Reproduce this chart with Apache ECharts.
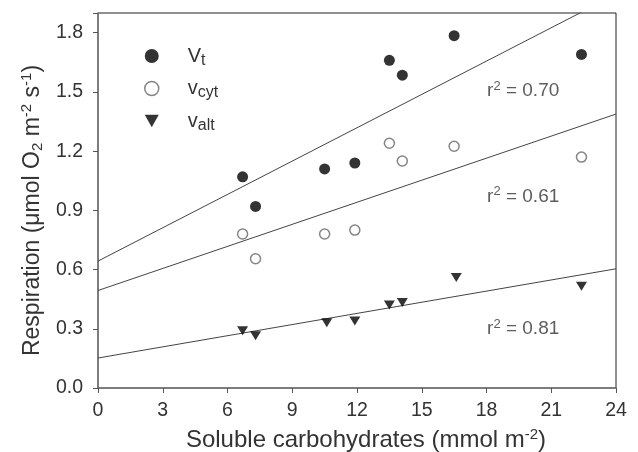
<!DOCTYPE html>
<html>
<head>
<meta charset="utf-8">
<script src="https://cdn.jsdelivr.net/npm/echarts@6/dist/echarts.min.js"></script>
<style>html,body{margin:0;padding:0;background:#fff}#c{width:638px;height:452px}</style>
</head>
<body>
<div id="c"></div>
<script>
// x values (soluble carbohydrates, mmol m-2)
const xVt   = [6.7, 7.3, 10.5, 11.9, 13.5, 14.1, 16.5, 22.4];
const yVt   = [1.07, 0.92, 1.11, 1.14, 1.66, 1.585, 1.785, 1.69];
const xVcyt = [6.7, 7.3, 10.5, 11.9, 13.5, 14.1, 16.5, 22.4];
const yVcyt = [0.78, 0.655, 0.78, 0.80, 1.24, 1.15, 1.225, 1.17];
const xValt = [6.7, 7.3, 10.6, 11.9, 13.5, 14.1, 16.6, 22.4];
const yValt = [0.29, 0.265, 0.33, 0.34, 0.42, 0.433, 0.56, 0.515];
// regression lines: intercepts and slopes
const fitIntercept = [0.643, 0.494, 0.152];
const fitSlope     = [0.0563, 0.03725, 0.01883];
const fitR2        = ['0.70', '0.61', '0.81'];
const xTicks = [0, 3, 6, 9, 12, 15, 18, 21, 24];
const yTicks = [0.0, 0.3, 0.6, 0.9, 1.2, 1.5, 1.8];

const FONT = "'Liberation Sans', Arial, sans-serif";
const TXT = '#333';
const zip = (a, b) => a.map((v, i) => [v, b[i]]);
const xMin = xTicks[0], xMax = xTicks[xTicks.length - 1];
const fitLine = i => [[xMin, fitIntercept[i]], [xMax, fitIntercept[i] + fitSlope[i] * xMax]];

const chart = echarts.init(document.getElementById('c'));
const annPos = [[19.7, 1.505], [19.7, 0.97], [19.7, 0.298]];
const TRI = 'path://M0,0L10,0L5,9Z';

chart.setOption({
  animation: false,
  grid: { left: 98, right: 22, top: 13, bottom: 64, show: true, borderColor: '#222', borderWidth: 1,
          containLabel: false, outerBoundsMode: 'none' },
  legend: {
    orient: 'vertical', left: 139, top: 41, itemGap: 10, itemWidth: 14, itemHeight: 14,
    data: [
      { name: 'Vt', icon: 'circle', itemStyle: { color: '#000', borderWidth: 0 } },
      { name: 'vcyt', icon: 'circle', itemStyle: { color: '#fff', borderColor: '#666', borderWidth: 1.5 } },
      { name: 'valt', icon: TRI, itemStyle: { color: '#000', borderWidth: 0 } }
    ],
    formatter: n => n === 'Vt' ? '{m|V}{s|t}' : '{m|v}{s|' + n.slice(1) + '}',
    textStyle: {
      fontFamily: FONT, color: TXT, padding: [0, 0, 0, 24],
      rich: {
        m: { fontSize: 20, fontFamily: FONT, color: TXT, lineHeight: 22 },
        s: { fontSize: 16, fontFamily: FONT, color: TXT, padding: [9, 0, 0, 0] }
      }
    }
  },
  xAxis: {
    type: 'value', min: xMin, max: xMax, interval: 3,
    name: 'Soluble carbohydrates (mmol m{sup|-2})', nameLocation: 'middle', nameGap: 39,
    nameTextStyle: { fontFamily: FONT, fontSize: 24, color: TXT, padding: [0, 0, 0, 18],
      rich: { sup: { fontSize: 15, fontFamily: FONT, color: TXT, padding: [0, 0, 12, 0] } } },
    axisLine: { lineStyle: { color: '#777', width: 1.5 } },
    axisTick: { show: true, inside: false, length: 5, lineStyle: { color: '#555' } },
    axisLabel: { fontFamily: FONT, fontSize: 19.5, color: TXT, margin: 13 },
    splitLine: { show: false }
  },
  yAxis: {
    type: 'value', min: 0, max: 1.9, interval: 0.3,
    name: 'Respiration (μmol O{sub|2} m{sup|-2} s{sup|-1})', nameLocation: 'middle', nameGap: 52,
    nameTextStyle: { fontFamily: FONT, fontSize: 23, color: TXT, padding: [0, 20, 0, 0],
      rich: {
        sup: { fontSize: 15, fontFamily: FONT, color: TXT, padding: [0, 0, 12, 0] },
        sub: { fontSize: 15, fontFamily: FONT, color: TXT, padding: [10, 0, 0, 0] }
      } },
    axisLine: { lineStyle: { color: '#777', width: 1.5 } },
    axisTick: { show: true, inside: false, length: 5, lineStyle: { color: '#555' } },
    axisLabel: { fontFamily: FONT, fontSize: 19.5, color: TXT, margin: 15,
      formatter: v => yTicks.some(t => Math.abs(t - v) < 1e-6) ? v.toFixed(1) : '' },
    splitLine: { show: false }
  },
  series: [
    { type: 'line', data: fitLine(0), symbol: 'none', lineStyle: { color: '#444', width: 1 }, clip: true, silent: true, z: 1 },
    { type: 'line', data: fitLine(1), symbol: 'none', lineStyle: { color: '#444', width: 1 }, clip: true, silent: true, z: 1 },
    { type: 'line', data: fitLine(2), symbol: 'none', lineStyle: { color: '#444', width: 1 }, clip: true, silent: true, z: 1 },
    { name: 'Vt', type: 'scatter', data: zip(xVt, yVt), symbol: 'circle', symbolSize: 11,
      itemStyle: { color: '#000' }, z: 3 },
    { name: 'vcyt', type: 'scatter', data: zip(xVcyt, yVcyt), symbol: 'circle', symbolSize: 10,
      itemStyle: { color: '#fff', borderColor: '#666', borderWidth: 1.5 }, z: 3 },
    { name: 'valt', type: 'scatter', data: zip(xValt, yValt), symbol: TRI, symbolSize: [11, 9],
      itemStyle: { color: '#000' }, z: 3 },
    { type: 'scatter', symbolSize: 0, silent: true, z: 4,
      data: annPos.map((p, i) => ({ value: p, r2: fitR2[i] })),
      label: { show: true, position: 'inside',
        formatter: p => 'r{sup|2} = ' + p.data.r2,
        fontFamily: FONT, fontSize: 19, color: TXT,
        rich: { sup: { fontSize: 13, fontFamily: FONT, color: TXT, padding: [0, 0, 10, 0] } } } }
  ]
});
</script>
</body>
</html>
